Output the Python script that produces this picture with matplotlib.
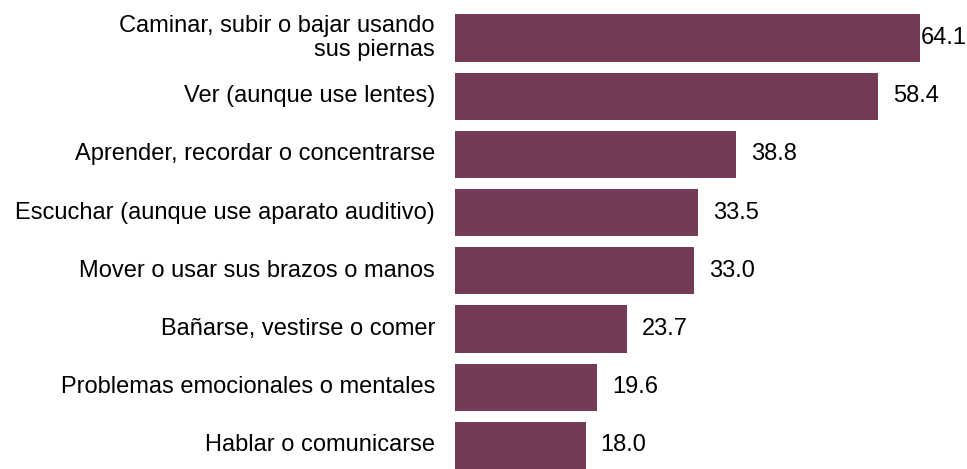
import matplotlib
matplotlib.use("Agg")
import matplotlib.pyplot as plt

categories = [
    "Caminar, subir o bajar usando\nsus piernas",
    "Ver (aunque use lentes)",
    "Aprender, recordar o concentrarse",
    "Escuchar (aunque use aparato auditivo)",
    "Mover o usar sus brazos o manos",
    "Bañarse, vestirse o comer",
    "Problemas emocionales o mentales",
    "Hablar o comunicarse",
]
values = [64.1, 58.4, 38.8, 33.5, 33.0, 23.7, 19.6, 18.0]
value_labels = ["64.1", "58.4", "38.8", "33.5", "33.0", "23.7", "19.6", "18.0"]

plt.rcParams['font.family'] = ['Liberation Sans', 'DejaVu Sans']

fig = plt.figure(figsize=(9.67, 4.69), dpi=100)
ax = fig.add_axes([0, 0, 1, 1])
ax.set_axis_off()

color = "#733B55"
ypos = list(range(len(values)))
ax.barh(ypos, values, height=0.81, color=color)

ax.set_xlim(-455 / 7.25, 512 / 7.25)
ax.set_ylim((469 - 38) / 58.2, -38 / 58.2)

fs = 17
for i, (cat, v, lab) in enumerate(zip(categories, values, value_labels)):
    ax.annotate(cat, xy=(0, i), xytext=(-20, 0), textcoords="offset pixels",
                ha="right", va="center", fontsize=fs, color="black",
                linespacing=1.1)
    off = 1 if i == 0 else 15
    ax.annotate(lab, xy=(v, i), xytext=(off, 0), textcoords="offset pixels",
                ha="left", va="center", fontsize=fs, color="black")

fig.savefig("out.png", dpi=100)
